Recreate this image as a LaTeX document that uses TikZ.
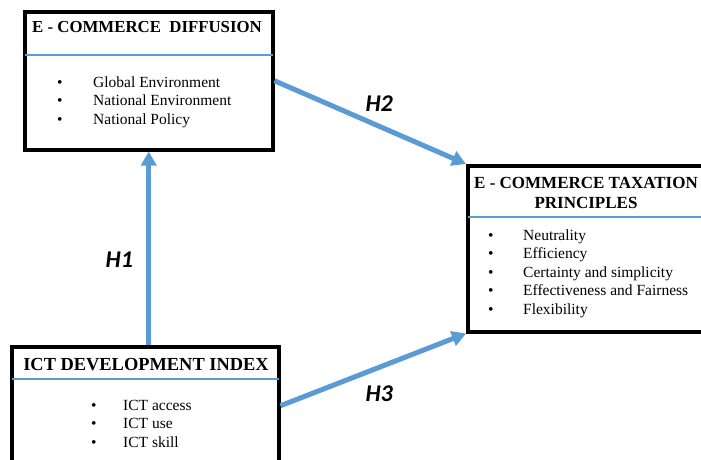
\documentclass[tikz,border=0pt]{standalone}
\usepackage{fontspec}
\setmainfont{Liberation Serif}
\newfontfamily\labelfont{Carlito}
\usetikzlibrary{arrows.meta,positioning,calc}
\definecolor{arrowblue}{RGB}{91,155,213}

\begin{document}
\begin{tikzpicture}[x=1pt, y=-1pt,
    box/.style={draw=black, line width=3.5pt, rectangle, inner sep=0pt, anchor=north west},
    title/.style={font=\fontsize{17}{20}\selectfont\bfseries, align=center, anchor=base, inner sep=0pt},
    items/.style={font=\fontsize{15.5}{18.5}\selectfont, anchor=base west, inner sep=0pt},
    sepline/.style={draw=arrowblue, line width=1.8pt},
    link/.style={draw=arrowblue, line width=5pt, -{Triangle[length=14pt,width=15pt]}},
    hlabel/.style={font=\labelfont\bfseries\itshape\fontsize{24}{28}\selectfont}
]
\useasboundingbox (0,0) rectangle (701,459);
\clip (0,0) rectangle (701,459);

% Boxes
\node[box, minimum width=248pt, minimum height=138pt] (diff) at (23,10) {};
\node[box, minimum width=248pt, minimum height=166pt] (tax) at (466,164) {};
\node[box, minimum width=267pt, minimum height=118pt] (ict) at (10,345) {};

% Titles
\node[title, font=\fontsize{16.8}{20}\selectfont\bfseries] (difftitle) at (147,32) {E - COMMERCE\hspace{0.5em}DIFFUSION};
\node[title] (taxtitle) at (586,208) {E - COMMERCE TAXATION\\PRINCIPLES};
\node[title, font=\fontsize{18.4}{22}\selectfont\bfseries] (icttitle) at (146,370) {ICT DEVELOPMENT INDEX};

% Separators
\draw[sepline] ([shift={(1.75pt,-45pt)}]diff.north west) -- ([shift={(-1.75pt,-45pt)}]diff.north east);
\draw[sepline] ([shift={(1.75pt,-53pt)}]tax.north west) -- ([shift={(-1.75pt,-53pt)}]tax.north east);
\draw[sepline] ([shift={(1.75pt,-34pt)}]ict.north west) -- ([shift={(-1.75pt,-34pt)}]ict.north east);

% Items
\node[items] (diffitems) at (57,87) {\begin{tabular}[t]{@{}p{36pt}@{}l@{}}
  \textbullet & Global Environment\\
  \textbullet & National Environment\\
  \textbullet & National Policy
\end{tabular}};
\node[items] (taxitems) at (488,240) {\begin{tabular}[t]{@{}p{35pt}@{}l@{}}
  \textbullet & Neutrality\\
  \textbullet & Efficiency\\
  \textbullet & Certainty and simplicity\\
  \textbullet & Effectiveness and Fairness\\
  \textbullet & Flexibility
\end{tabular}};
\node[items] (ictitems) at (91,410) {\begin{tabular}[t]{@{}p{32pt}@{}l@{}}
  \textbullet & ICT access\\
  \textbullet & ICT use\\
  \textbullet & ICT skill
\end{tabular}};

% Arrows
\draw[link] (ict.north -| diff.south) -- node[hlabel, midway, left=10pt, yshift=-11pt] (h1) {H1} (diff.south);
\draw[link] (diff.east) -- node[hlabel, midway, above=5pt, xshift=9pt] (h2) {H2} (tax.north west);
\draw[link] (ict.east) -- node[hlabel, midway, below=10pt, xshift=6pt] (h3) {H3} (tax.south west);

\end{tikzpicture}
\end{document}
